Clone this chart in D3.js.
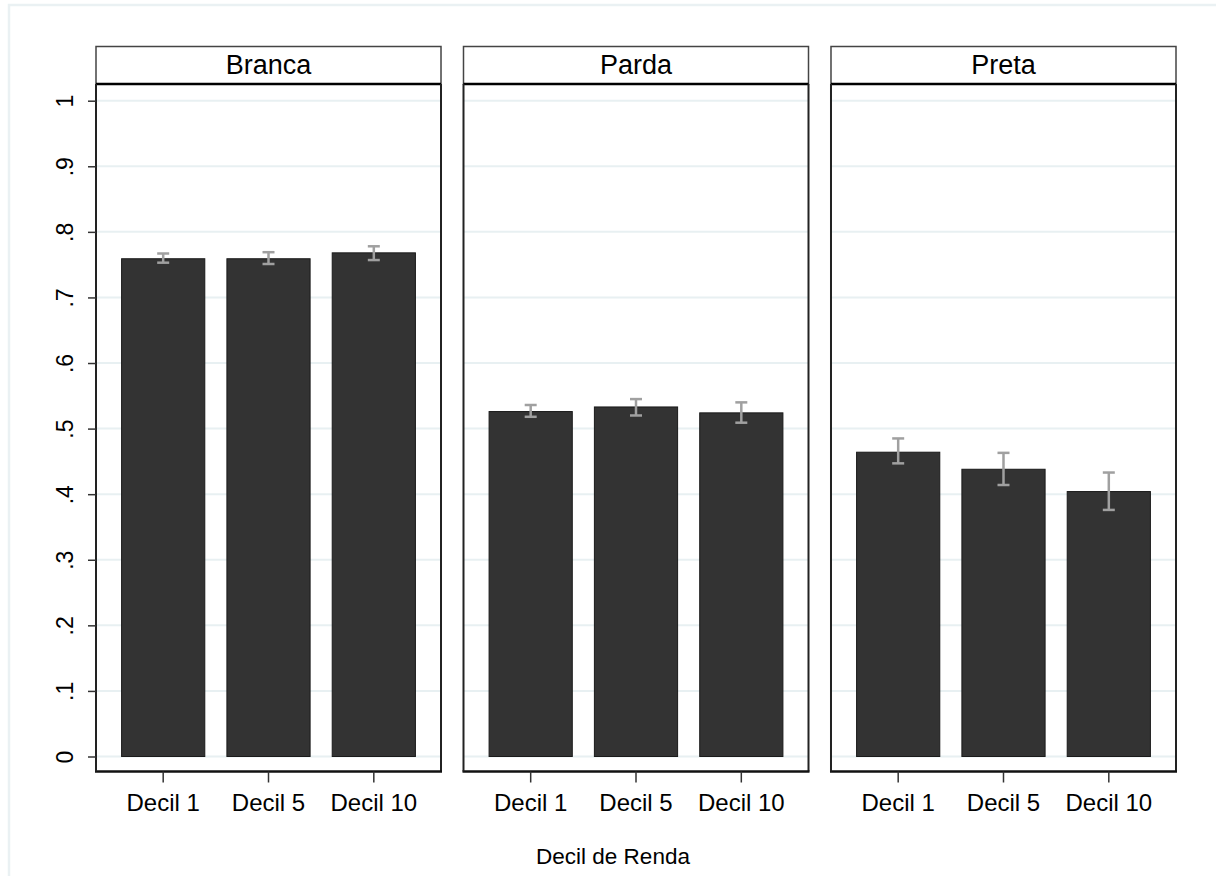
<!DOCTYPE html>
<html>
<head>
<meta charset="utf-8">
<script src="https://cdn.jsdelivr.net/npm/d3@7/dist/d3.min.js"></script>
<style>
  body { margin: 0; background: #fff; }
  svg { display: block; font-family: 'Liberation Sans', Arial, sans-serif; }
</style>
</head>
<body>
<svg width="1216" height="876"></svg>
<script>
// data
const panels = ['Branca', 'Parda', 'Preta']
const deciles = ['Decil 1', 'Decil 5', 'Decil 10']

const brancaMean = [0.759, 0.759, 0.768]
const brancaLow = [0.753, 0.751, 0.757]
const brancaHigh = [0.767, 0.769, 0.778]

const pardaMean = [0.526, 0.533, 0.524]
const pardaLow = [0.518, 0.520, 0.509]
const pardaHigh = [0.536, 0.545, 0.540]

const pretaMean = [0.464, 0.438, 0.404]
const pretaLow = [0.447, 0.414, 0.376]
const pretaHigh = [0.485, 0.463, 0.433]

const yTicks = [0, 0.1, 0.2, 0.3, 0.4, 0.5, 0.6, 0.7, 0.8, 0.9, 1]
const yTickLabels = ['0', '.1', '.2', '.3', '.4', '.5', '.6', '.7', '.8', '.9', '1']

const xTitle = 'Decil de Renda'

const series = {
  Branca: { mean: brancaMean, low: brancaLow, high: brancaHigh },
  Parda: { mean: pardaMean, low: pardaLow, high: pardaHigh },
  Preta: { mean: pretaMean, low: pretaLow, high: pretaHigh }
}

const svg = d3.select('svg')
const width = +svg.attr('width')
const height = +svg.attr('height')

// outer light frame of the graph region
svg.append('path')
  .attr('d', `M9,${height} V5 H${width}`)
  .attr('fill', 'none')
  .attr('stroke', '#eaf1f3')
  .attr('stroke-width', 2.5)

const plotTop = 84
const plotBottom = 771.5
const headerTop = 46.5

const yScale = d3.scaleLinear()
  .domain([0, 1])
  .range([756.5, 100.7])

const panelScale = d3.scaleBand()
  .domain(panels)
  .range([96, 1176])
  .paddingInner(0.0612)

const pw = panelScale.bandwidth()

const xScale = d3.scaleBand()
  .domain(deciles)
  .range([0, pw])
  .paddingInner(0.21)
  .paddingOuter(0.243)

panels.forEach((name, pi) => {
  const g = svg.append('g')
    .attr('transform', `translate(${panelScale(name)},0)`)

  // gridlines
  g.selectAll('.grid')
    .data(yTicks)
    .join('line')
    .attr('class', 'grid')
    .attr('x1', 0)
    .attr('x2', pw)
    .attr('y1', d => yScale(d))
    .attr('y2', d => yScale(d))
    .attr('stroke', '#e8f0f2')
    .attr('stroke-width', 2)

  // header strip
  g.append('rect')
    .attr('x', 0)
    .attr('y', headerTop)
    .attr('width', pw)
    .attr('height', plotTop - headerTop)
    .attr('fill', '#fff')
    .attr('stroke', '#444')
    .attr('stroke-width', 1.5)

  g.append('line')
    .attr('x1', 0).attr('x2', pw)
    .attr('y1', plotTop).attr('y2', plotTop)
    .attr('stroke', '#000')
    .attr('stroke-width', 2.5)

  g.append('text')
    .attr('x', pw / 2)
    .attr('y', 74)
    .attr('text-anchor', 'middle')
    .attr('font-size', 27)
    .attr('fill', '#000')
    .text(name)

  // side frame lines
  g.append('line')
    .attr('x1', pw).attr('x2', pw)
    .attr('y1', plotTop).attr('y2', plotBottom)
    .attr('stroke', '#222')
    .attr('stroke-width', 2)

  // bars
  const s = series[name]
  const rows = deciles.map((d, i) => ({ decil: d, mean: s.mean[i], low: s.low[i], high: s.high[i] }))

  g.selectAll('.bar')
    .data(rows)
    .join('rect')
    .attr('class', 'bar')
    .attr('x', d => xScale(d.decil))
    .attr('width', xScale.bandwidth())
    .attr('y', d => yScale(d.mean))
    .attr('height', d => yScale(0) - yScale(d.mean))
    .attr('fill', '#333333')
    .attr('stroke', '#1a1a1a')
    .attr('stroke-width', 1)

  // error bars
  const cx = d => xScale(d.decil) + xScale.bandwidth() / 2
  const eb = g.selectAll('.err')
    .data(rows)
    .join('g')
    .attr('class', 'err')
    .attr('stroke', '#a0a0a0')
    .attr('stroke-width', 2.5)

  eb.append('line')
    .attr('x1', cx).attr('x2', cx)
    .attr('y1', d => yScale(d.low)).attr('y2', d => yScale(d.high))
  eb.append('line')
    .attr('x1', d => cx(d) - 6).attr('x2', d => cx(d) + 6)
    .attr('y1', d => yScale(d.high)).attr('y2', d => yScale(d.high))
  eb.append('line')
    .attr('x1', d => cx(d) - 6).attr('x2', d => cx(d) + 6)
    .attr('y1', d => yScale(d.low)).attr('y2', d => yScale(d.low))

  // x axis
  const xAxis = d3.axisBottom(xScale)
    .tickSize(11)
    .tickPadding(10)
    .tickSizeOuter(0)

  const xg = g.append('g')
    .attr('transform', `translate(0,${plotBottom})`)
    .call(xAxis)

  xg.select('.domain')
    .attr('d', `M-1,0H${pw + 1}`)
    .attr('stroke', '#111')
    .attr('stroke-width', 2.5)
  xg.selectAll('.tick line').attr('stroke', '#333').attr('stroke-width', 1.5)
  xg.selectAll('.tick text')
    .attr('font-size', 24)
    .attr('font-family', "'Liberation Sans', Arial, sans-serif")
    .attr('fill', '#000')
    .attr('dy', null)
    .attr('y', 39)

  // left frame / y axis
  g.append('line')
    .attr('x1', 0).attr('x2', 0)
    .attr('y1', plotTop).attr('y2', plotBottom)
    .attr('stroke', '#222')
    .attr('stroke-width', 2)

  if (pi === 0) {
    const yAxis = d3.axisLeft(yScale)
      .tickValues(yTicks)
      .tickFormat((d, i) => yTickLabels[i])
      .tickSize(8)
      .tickPadding(0)

    const yg = g.append('g').call(yAxis)
    yg.select('.domain').remove()
    yg.selectAll('.tick line').attr('stroke', '#333').attr('stroke-width', 1.5)
    yg.selectAll('.tick text')
      .attr('font-size', 23)
      .attr('font-family', "'Liberation Sans', Arial, sans-serif")
      .attr('fill', '#000')
      .attr('x', null)
      .attr('dy', null)
      .attr('text-anchor', 'middle')
      .attr('transform', 'translate(-23,0) rotate(-90)')
  }
})

svg.append('text')
  .attr('x', 613)
  .attr('y', 864)
  .attr('text-anchor', 'middle')
  .attr('font-size', 22.5)
  .attr('fill', '#000')
  .text(xTitle)
</script>
</body>
</html>
